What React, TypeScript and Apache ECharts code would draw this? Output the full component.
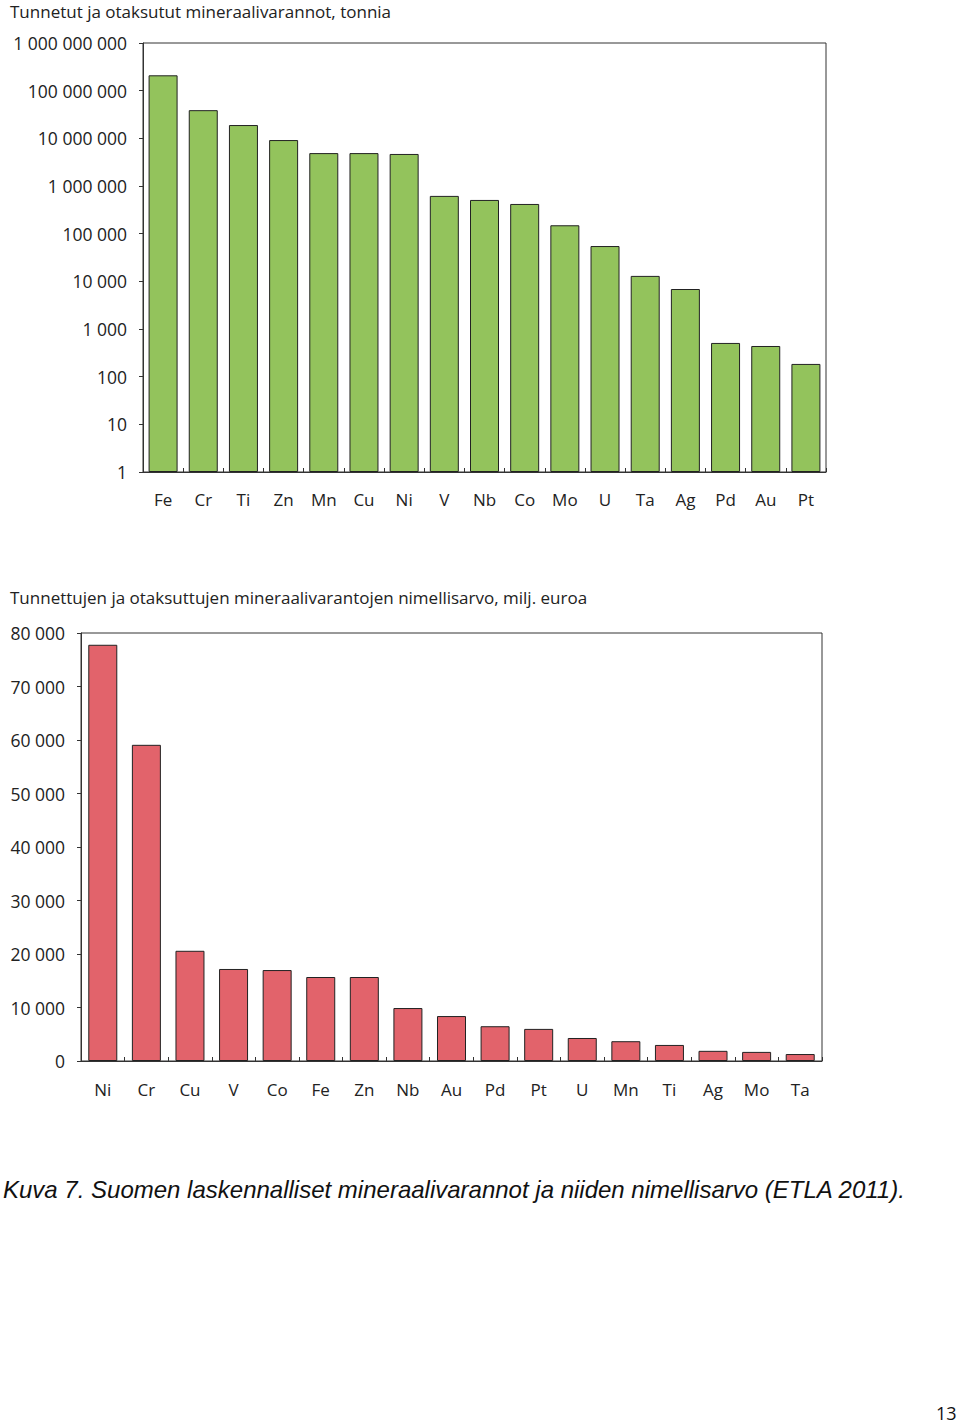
import React, { useEffect, useRef } from "react";
import * as echarts from "echarts";

const tonnesCategories = ["Fe", "Cr", "Ti", "Zn", "Mn", "Cu", "Ni", "V", "Nb", "Co", "Mo", "U", "Ta", "Ag", "Pd", "Au", "Pt"];
const tonnesValues = [210000000, 39000000, 19000000, 9200000, 4900000, 4900000, 4700000, 620000, 510000, 420000, 150000, 55000, 13000, 6900, 510, 440, 185];
const tonnesTicks = [1, 10, 100, 1000, 10000, 100000, 1000000, 10000000, 100000000, 1000000000];

const valueCategories = ["Ni", "Cr", "Cu", "V", "Co", "Fe", "Zn", "Nb", "Au", "Pd", "Pt", "U", "Mn", "Ti", "Ag", "Mo", "Ta"];
const valueValues = [77800, 59100, 20600, 17200, 17000, 15700, 15700, 9900, 8400, 6500, 6000, 4300, 3700, 3000, 1900, 1700, 1300];

const titleTop = "Tunnetut ja otaksutut mineraalivarannot, tonnia";
const titleBottom = "Tunnettujen ja otaksuttujen mineraalivarantojen nimellisarvo, milj. euroa";
const caption = "Kuva 7. Suomen laskennalliset mineraalivarannot ja niiden nimellisarvo (ETLA 2011).";
const pageNumber = "13";

const fmt = (v: number) => String(Math.round(v)).replace(/\B(?=(\d{3})+(?!\d))/g, " ");

const FONT = "'Open Sans', 'Noto Sans', sans-serif";
const TXT = "#222";

export default function App() {
  const ref = useRef<HTMLDivElement>(null);
  useEffect(() => {
    if (!ref.current) return;
    const chart = echarts.init(ref.current, undefined, { renderer: "svg" });
    const xLabel = { color: TXT, fontFamily: FONT, fontSize: 17 };
    const yLabel = { color: TXT, fontFamily: FONT, fontSize: 17.5 };
    chart.setOption({
      animation: false,
      backgroundColor: "#fff",
      grid: [
        { left: 143, top: 43, width: 683, height: 429, show: true, borderColor: "#333", borderWidth: 1, backgroundColor: "transparent" },
        { left: 81, top: 633, width: 741, height: 428, show: true, borderColor: "#333", borderWidth: 1, backgroundColor: "transparent" },
      ],
      xAxis: [
        {
          type: "category", gridIndex: 0, data: tonnesCategories,
          axisLine: { lineStyle: { color: "#333" } },
          axisTick: { show: true, inside: true, length: 4, lineStyle: { color: "#333" } },
          axisLabel: { ...xLabel, margin: 19 },
        },
        {
          type: "category", gridIndex: 1, data: valueCategories,
          axisLine: { lineStyle: { color: "#333" } },
          axisTick: { show: true, inside: true, length: 4, lineStyle: { color: "#333" } },
          axisLabel: { ...xLabel, margin: 20 },
        },
      ],
      yAxis: [
        {
          type: "log", gridIndex: 0, logBase: 10, min: tonnesTicks[0], max: tonnesTicks[tonnesTicks.length - 1],
          axisLine: { show: true, lineStyle: { color: "#333" } },
          axisTick: { show: true, length: 4, lineStyle: { color: "#333" } },
          splitLine: { show: false },
          axisLabel: { ...yLabel, margin: 16, formatter: (v: number) => fmt(v) },
        },
        {
          type: "value", gridIndex: 1, min: 0, max: 80000, interval: 10000,
          axisLine: { show: true, lineStyle: { color: "#333" } },
          axisTick: { show: true, length: 4, lineStyle: { color: "#333" } },
          splitLine: { show: false },
          axisLabel: { ...yLabel, margin: 16, formatter: (v: number) => fmt(v) },
        },
      ],
      series: [
        {
          type: "bar", xAxisIndex: 0, yAxisIndex: 0, data: tonnesValues, barWidth: 29,
          itemStyle: { color: "#93c35c", borderColor: "#222", borderWidth: 1 },
        },
        {
          type: "bar", xAxisIndex: 1, yAxisIndex: 1, data: valueValues, barWidth: 29,
          itemStyle: { color: "#e2636b", borderColor: "#222", borderWidth: 1 },
        },
      ],
      graphic: [
        { type: "text", left: 10, top: 3, style: { text: titleTop, fill: TXT, font: `17px ${FONT}` } },
        { type: "text", left: 10, top: 589, style: { text: titleBottom, fill: TXT, font: `17px ${FONT}` } },
        { type: "text", left: 3, top: 1177, style: { text: caption, fill: "#111", font: `italic 24px 'Liberation Sans', Arial, sans-serif` } },
        { type: "text", left: 936, top: 1404, style: { text: pageNumber, fill: "#111", font: `18px ${FONT}` } },
      ],
    });
    return () => chart.dispose();
  }, []);
  return <div ref={ref} style={{ position: "absolute", left: 0, top: 0, width: 960, height: 1425 }} />;
}
